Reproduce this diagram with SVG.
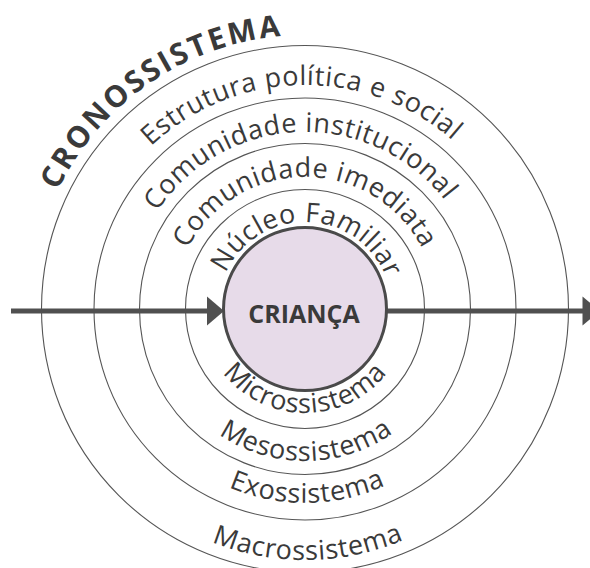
<svg xmlns="http://www.w3.org/2000/svg" width="590" height="568" viewBox="0 0 590 568">
<style>
.ring{fill:none;stroke:#555;stroke-width:1.1}
.lbl{font-family:"Open Sans","DejaVu Sans",sans-serif;font-size:27px;fill:#3a3a3a;letter-spacing:0.6px}
.bold{font-weight:bold;letter-spacing:0}
.conn{stroke:#505050;stroke-width:5;fill:none}
.head{fill:#505050}
</style>
<defs>
<path id="pCrono" d="M 31,309 A 274 274 0 0 1 579,309"/>
<path id="pT1" d="M 81,309 A 224 224 0 0 1 529,309"/>
<path id="pT2" d="M 128,309 A 177 177 0 0 1 482,309"/>
<path id="pT3" d="M 173,309 A 132 132 0 0 1 437,309"/>
<path id="pT4" d="M 218,309 A 87 87 0 0 1 392,309"/>
<path id="pB1" d="M 201,309 A 104 104 0 0 0 409,309"/>
<path id="pB2" d="M 153,309 A 152 152 0 0 0 457,309"/>
<path id="pB3" d="M 111,309 A 194 194 0 0 0 499,309"/>
<path id="pB4" d="M 54,309 A 251 251 0 0 0 556,309"/>
</defs>
<rect width="590" height="568" fill="#fff"/>
<g id="rings">
<circle class="ring" cx="305" cy="309" r="263.5"/>
<circle class="ring" cx="305" cy="309" r="211"/>
<circle class="ring" cx="305" cy="309" r="165.5"/>
<circle class="ring" cx="305" cy="309" r="119.5"/>
</g>
<g id="connectors">
<line class="conn" x1="11" y1="311" x2="209" y2="311"/>
<polygon class="head" points="207,296.5 224,311 207,325.5"/>
<line class="conn" x1="386" y1="311" x2="584" y2="311"/>
<polygon class="head" points="582.5,296.5 600,311 582.5,325.5"/>
</g>
<g id="crianca">
<circle cx="305" cy="309" r="81.5" fill="#e7dbe9" stroke="#4a4a4a" stroke-width="3"/>
<text class="lbl bold" x="304" y="323" text-anchor="middle" style="font-size:25px">CRIANÇA</text>
</g>
<g id="cronossistema">
<text class="lbl bold" style="font-size:30px;letter-spacing:2.5px"><textPath href="#pCrono" startOffset="122">CRONOSSISTEMA</textPath></text>
</g>
<g id="estrutura"><text class="lbl" text-anchor="middle"><textPath href="#pT1" startOffset="49.4%">Estrutura política e social</textPath></text></g>
<g id="institucional"><text class="lbl" text-anchor="middle"><textPath href="#pT2" startOffset="48.8%">Comunidade institucional</textPath></text></g>
<g id="imediata"><text class="lbl" text-anchor="middle"><textPath href="#pT3" startOffset="50%">Comunidade imediata</textPath></text></g>
<g id="nucleo"><text class="lbl" text-anchor="middle"><textPath href="#pT4" startOffset="51%">Núcleo Familiar</textPath></text></g>
<g id="micro"><text class="lbl" text-anchor="middle"><textPath href="#pB1" startOffset="50%">Microssistema</textPath></text></g>
<g id="meso"><text class="lbl" text-anchor="middle"><textPath href="#pB2" startOffset="50.3%">Mesossistema</textPath></text></g>
<g id="exo"><text class="lbl" text-anchor="middle"><textPath href="#pB3" startOffset="50.4%">Exossistema</textPath></text></g>
<g id="macro"><text class="lbl" text-anchor="middle"><textPath href="#pB4" startOffset="50.4%">Macrossistema</textPath></text></g>
</svg>
